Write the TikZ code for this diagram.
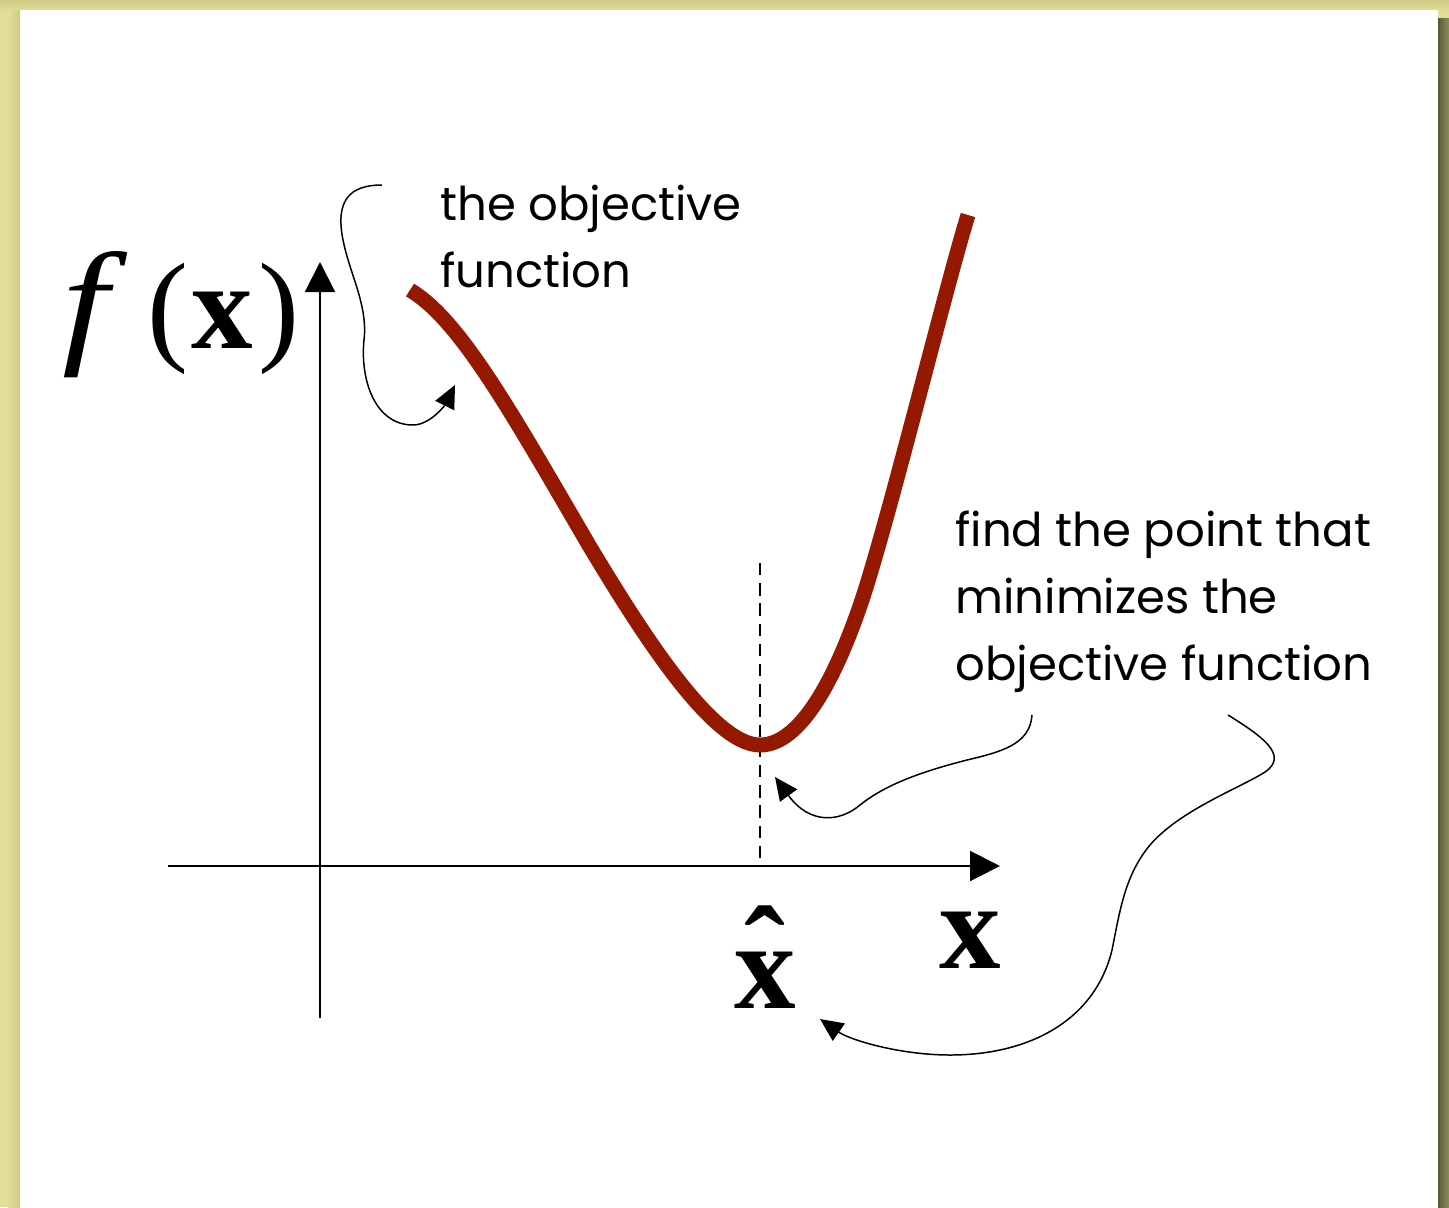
\documentclass[tikz,border=0pt]{standalone}
\usepackage{fontspec}
\setmainfont{Poppins}
\newfontfamily\timesfont{Liberation Serif}
\usetikzlibrary{arrows.meta}
\definecolor{bgYellow}{HTML}{E1DE9A}
\definecolor{bgShade}{HTML}{CFCB84}
\definecolor{shadowDark}{HTML}{575A36}
\definecolor{shadowLight}{HTML}{8D8E5C}
\definecolor{curveRed}{HTML}{951800}

\begin{document}
\begin{tikzpicture}[x=0.02cm, y=-0.02cm,
    axis/.style={line width=1.15pt, -{Triangle[length=0.6cm, width=0.6cm]}},
    note/.style={line width=0.85pt, -{Triangle[length=0.46cm, width=0.42cm]}},
    remark/.style={font=\fontsize{26.5}{38}\selectfont, align=left, anchor=base west, inner sep=0pt},
    mathlbl/.style={font=\timesfont\fontsize{70}{70}\selectfont, inner sep=0pt}
  ]
  \useasboundingbox (0,0) rectangle (1449,1207);

  % slide background
  \fill[bgYellow] (0,0) rectangle (1449,1207);
  \shade[top color=bgShade, bottom color=bgYellow] (0,0) rectangle (1449,10);
  \shade[left color=bgYellow, right color=bgShade] (8,10) rectangle (20,1207);
  \fill[white] (20,10) rectangle (1438,1207);
  \shade[left color=shadowDark, right color=shadowLight] (1438,18) rectangle (1449,1207);

  % axes
  \coordinate (o)      at (320,866);
  \coordinate (ytop)   at (320,262);
  \coordinate (ybot)   at (320,1018);
  \coordinate (xleft)  at (168,866);
  \coordinate (xright) at (1000,866);
  \draw[axis] (ybot) -- (ytop);
  \draw[axis] (xleft) -- (xright);

  % the curve and its minimum
  \coordinate (cstart) at (410,290);
  \coordinate (cmin)   at (760,745);
  \coordinate (cend)   at (968,215);
  \coordinate (dtop)   at (760,563);
  \draw[line width=1.1pt, dash pattern=on 7pt off 4.5pt] (dtop) -- (dtop |- o);
  \draw[curveRed, line width=8.5pt]
    (cstart) .. controls (460,320) and (510,410) .. (590,547)
    .. controls (640,630) and (712,745) .. (cmin)
    .. controls (800,745) and (835,680) .. (862,600)
    .. controls (890,515) and (945,290) .. (cend);

  % labels
  \node[mathlbl, anchor=base west] (fx) at (62,348)
    {\scalebox{1.35}[1.12]{\itshape f}\hspace{22pt}(\hspace{2pt}\textbf{x}\hspace{3pt})};
  \node[mathlbl, anchor=base] (xhat) at (765,1008)
    {\textbf{\ooalign{x\cr\hidewidth\raisebox{0.13em}{\char"02C6}\hidewidth\cr}}};
  \node[mathlbl, anchor=base] (xlab) at (970,968) {\textbf{x}};
  \node[remark] (objlbl) at (440,287) {the objective\\function};
  \node[remark] (minlbl) at (955,680) {find the point that\\minimizes the\\objective function};

  % pointers
  \coordinate (p1) at (382,185);
  \coordinate (t1) at (455,385);
  \draw[note] (p1) .. controls (350,185) and (335,200) .. (343,240)
    .. controls (350,275) and (368,305) .. (364,340)
    .. controls (360,380) and (375,425) .. (413,425)
    .. controls (430,425) and (445,405) .. (t1);
  \coordinate (p2) at (1032,715);
  \coordinate (t2) at (775,777);
  \draw[note] (p2) .. controls (1030,745) and (1000,752) .. (967,760)
    .. controls (920,772) and (885,785) .. (860,805)
    .. controls (840,822) and (810,825) .. (t2);
  \coordinate (p3) at (1228,715);
  \coordinate (t3) at (820,1019);
  \draw[note] (p3) .. controls (1260,735) and (1290,755) .. (1265,772)
    .. controls (1240,788) and (1180,810) .. (1150,845)
    .. controls (1125,875) and (1120,910) .. (1112,950)
    .. controls (1095,1020) and (1030,1055) .. (950,1055)
    .. controls (900,1055) and (850,1040) .. (t3);
\end{tikzpicture}
\end{document}
